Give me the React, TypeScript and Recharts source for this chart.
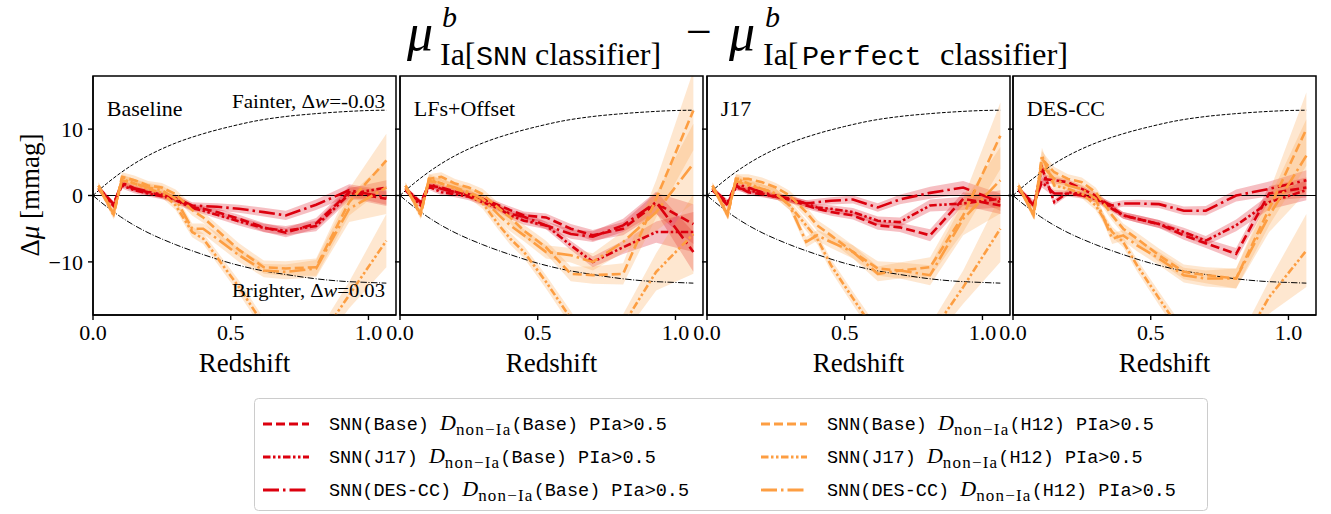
import React from "react";
import { ComposedChart, Line, Area, XAxis, YAxis, ReferenceLine, ReferenceArea } from "recharts";

const SERIF = "Liberation Serif, Times New Roman, serif";
const MONO = "Liberation Mono, Courier New, monospace";
const RED = "#dc000e";
const ORANGE = "#fd9e42";

// redshift bins
const zBins = [0.02, 0.075, 0.105, 0.15, 0.2, 0.25, 0.3, 0.36, 0.4, 0.45, 0.53, 0.62, 0.7, 0.81, 0.93, 1.065];

// reference cosmology curves
const refZ = [0, 0.05, 0.1, 0.15, 0.2, 0.3, 0.4, 0.5, 0.6, 0.7, 0.8, 0.9, 1.0, 1.065];
const fainterCurve = [0, 1.8, 3.4, 4.8, 6.0, 7.9, 9.3, 10.4, 11.3, 11.9, 12.3, 12.6, 12.8, 12.85];
const brighterCurve = [0, -1.7, -3.2, -4.5, -5.6, -7.4, -8.9, -10.2, -11.2, -11.9, -12.5, -12.9, -13.1, -13.2];

const panelNames = ["Baseline", "LFs+Offset", "J17", "DES-CC"];
const xTicks = [0, 0.5, 1.0];
const yTicks = [-10, 0, 10];

// Baseline panel
const baselineBB = [1.2, -1.3, 1.8, 1.0, 0.5, 0.0, -0.5, -1.8, -2.0, -2.5, -3.5, -4.8, -5.6, -4.2, 0.5, -0.5];
const baselineJB = [1.0, -1.6, 1.5, 0.8, 0.3, -0.1, -0.7, -1.9, -2.3, -2.9, -3.9, -4.9, -5.3, -4.6, 0.2, 1.2];
const baselineDB = [1.0, -1.3, 1.9, 1.1, 0.6, 0.1, -0.4, -1.5, -1.6, -1.7, -2.0, -2.5, -3.0, -1.4, 0.8, -0.3];
const baselineBH = [1.5, -2.8, 2.8, 2.3, 1.5, 1.2, 0.2, -2.2, -3.3, -5.2, -8.2, -10.8, -11.0, -10.8, -1.0, 5.3];
const baselineJH = [1.5, -3.0, 2.5, 1.8, 1.0, 0.4, -1.5, -5.5, -6.5, -9.3, -13.8, -19.5, -24, -22.3, -15, -6.8];
const baselineDH = [1.2, -2.6, 2.3, 1.8, 1.2, 0.8, -0.5, -5.0, -5.0, -6.5, -9.0, -11.3, -11.5, -11.0, -2.0, 1.2];
const redErrBaseline = [0.4, 0.4, 0.45, 0.45, 0.45, 0.45, 0.5, 0.5, 0.5, 0.55, 0.6, 0.65, 0.7, 0.8, 0.9, 1.1];
const orangeErrBaseline = [0.5, 0.6, 0.7, 0.7, 0.7, 0.7, 0.7, 0.8, 0.8, 0.9, 1.0, 1.0, 1.1, 1.3, 2.0, 4.0];

// LFs+Offset panel
const lfsBB = [1.0, -1.0, 1.5, 1.2, 0.6, 0.2, -0.5, -1.5, -2.2, -3.0, -3.3, -5.0, -6.0, -5.0, -1.2, -4.3];
const lfsJB = [0.8, -1.5, 1.3, 0.5, 0.2, -0.2, -1.0, -2.0, -3.0, -3.8, -4.5, -7.5, -10.0, -7.8, -5.5, -5.5];
const lfsDB = [1.0, -1.2, 1.8, 1.0, 0.5, 0.0, -0.8, -1.8, -2.8, -3.2, -4.5, -5.8, -6.2, -4.5, -1.0, -8.5];
const lfsBH = [1.5, -2.8, 2.5, 2.8, 1.8, 1.2, 0.2, -2.0, -3.3, -5.3, -7.8, -11.8, -12.0, -11.8, -0.5, 12.8];
const lfsJH = [1.5, -3.0, 2.5, 1.8, 1.0, 0.3, -1.2, -4.5, -6.5, -8.5, -13.0, -18.5, -24, -19.5, -11.5, -5.8];
const lfsDH = [1.2, -2.5, 2.2, 1.8, 1.2, 0.5, -0.5, -3.0, -4.5, -6.0, -8.5, -9.0, -10.0, -7.0, -2.5, 4.8];
const redErrLFs = [0.4, 0.4, 0.45, 0.45, 0.45, 0.5, 0.5, 0.5, 0.55, 0.6, 0.6, 0.7, 0.8, 1.0, 1.6, 3.0];
const orangeErrLFs = [0.5, 0.6, 0.7, 0.7, 0.7, 0.7, 0.8, 0.8, 0.9, 0.9, 1.0, 1.1, 1.3, 1.6, 2.8, 6.0];

// J17 panel
const j17BB = [1.0, -1.5, 1.5, 0.5, 0.2, -0.2, -0.6, -1.5, -2.0, -2.5, -3.0, -4.5, -4.8, -6.0, -0.5, -1.5];
const j17JB = [0.8, -1.2, 1.2, 0.8, 0.3, -0.2, -0.6, -1.2, -1.8, -2.0, -2.5, -3.8, -4.0, -1.5, -1.2, -0.5];
const j17DB = [1.0, -1.0, 1.8, 1.2, 0.5, 0.0, -0.5, -1.2, -1.0, -0.8, -0.6, -1.8, -0.6, 0.4, 1.2, -1.0];
const j17BH = [1.5, -3.0, 2.5, 2.5, 2.0, 1.2, 0.0, -2.5, -4.5, -6.0, -8.5, -11.0, -11.3, -10.8, -3.0, 9.0];
const j17JH = [1.5, -3.0, 2.5, 1.8, 1.0, 0.3, -1.5, -4.5, -6.5, -10.5, -15.5, -21, -25, -21, -13.8, -5.0];
const j17DH = [1.2, -2.5, 2.2, 1.5, 1.0, 0.3, -1.5, -7.0, -6.0, -7.0, -8.5, -11.8, -11.3, -12.0, -3.5, 2.3];
const redErrJ17 = [0.4, 0.4, 0.45, 0.45, 0.45, 0.45, 0.5, 0.5, 0.5, 0.55, 0.6, 0.65, 0.7, 0.9, 1.0, 1.3];
const orangeErrJ17 = [0.5, 0.6, 0.7, 0.7, 0.7, 0.7, 0.7, 0.8, 0.8, 0.9, 1.0, 1.1, 1.2, 1.5, 2.5, 5.0];

// DES-CC panel
const desBB = [1.0, -1.5, 2.5, 2.3, 2.0, 1.0, 0.0, -1.8, -3.0, -3.5, -4.3, -6.0, -7.2, -8.8, 0.3, 1.2];
const desJB = [0.8, -1.5, 4.2, -1.0, 0.5, 0.2, -0.5, -2.0, -3.0, -3.5, -4.3, -5.5, -6.8, -4.5, -1.0, 0.8];
const desDB = [1.0, -1.2, 2.0, 0.3, 0.3, 0.0, -0.5, -1.5, -1.2, -1.2, -1.3, -2.3, -2.3, 0.0, 1.0, 2.3];
const desBH = [1.5, -3.0, 5.5, 3.5, 2.5, 2.0, 0.5, -3.0, -5.0, -6.5, -9.0, -11.5, -12.0, -12.5, -2.0, 10.0];
const desJH = [1.5, -3.0, 6.0, 1.5, 1.0, 0.3, -1.5, -5.5, -7.0, -10.5, -15.5, -21, -26, -24, -15.3, -8.3];
const desDH = [1.2, -2.5, 4.5, 2.5, 1.5, 1.0, -0.5, -6.5, -6.0, -7.5, -9.5, -12.0, -12.5, -12.5, -3.0, 6.0];
const redErrDES = [0.4, 0.5, 0.8, 0.5, 0.45, 0.45, 0.5, 0.5, 0.5, 0.55, 0.6, 0.65, 0.7, 0.9, 1.1, 1.5];
const orangeErrDES = [0.5, 0.6, 1.2, 0.8, 0.7, 0.7, 0.7, 0.8, 0.8, 0.9, 1.0, 1.1, 1.2, 1.5, 2.5, 5.5];

const panelSeries = [
  [baselineBB, baselineJB, baselineDB, baselineBH, baselineJH, baselineDH],
  [lfsBB, lfsJB, lfsDB, lfsBH, lfsJH, lfsDH],
  [j17BB, j17JB, j17DB, j17BH, j17JH, j17DH],
  [desBB, desJB, desDB, desBH, desJH, desDH],
];
const panelRedErr = [redErrBaseline, redErrLFs, redErrJ17, redErrDES];
const panelOrangeErr = [orangeErrBaseline, orangeErrLFs, orangeErrJ17, orangeErrDES];

const DASHED = "9 4";
const DASHDOTDOT = "7.5 2.5 2.5 2.5 2.5 2.5";
const DASHDOT = "16 4 2.5 4";
const seriesStyle = [
  { color: RED, dash: DASHED },
  { color: RED, dash: DASHDOTDOT },
  { color: RED, dash: DASHDOT },
  { color: ORANGE, dash: DASHED },
  { color: ORANGE, dash: DASHDOTDOT },
  { color: ORANGE, dash: DASHDOT },
];
const legendLabels = [
  ["SNN(Base)", "(Base)"],
  ["SNN(J17)", "(Base)"],
  ["SNN(DES-CC)", "(Base)"],
  ["SNN(Base)", "(H12)"],
  ["SNN(J17)", "(H12)"],
  ["SNN(DES-CC)", "(H12)"],
];

const PLOT_W = 303;
const PLOT_H = 239;
const PLOT_TOP = 76;
const Y_AXIS_W = 60;
const X_AXIS_H = 80;
const panelLefts = [93.3, 400.3, 707.3, 1013.3];

const fmtY = (v: number) => (v < 0 ? "\u2212" + Math.abs(v) : String(v));

const serif = (size: number, italic = false): React.CSSProperties => ({
  fontFamily: SERIF,
  fontSize: size,
  fontStyle: italic ? "italic" : "normal",
});
const mono = (size: number): React.CSSProperties => ({ fontFamily: MONO, fontSize: size });

function Panel({ idx }: { idx: number }) {
  const series = panelSeries[idx];
  const rE = panelRedErr[idx];
  const oE = panelOrangeErr[idx];
  const data = zBins.map((z, i) => {
    const row: any = { z };
    series.forEach((arr, s) => {
      const e = s < 3 ? rE[i] : oE[i];
      row["v" + s] = arr[i];
      row["b" + s] = [arr[i] - e, arr[i] + e];
    });
    return row;
  });
  const refData = refZ.map((z, i) => ({ z, f: fainterCurve[i], br: brighterCurve[i] }));
  const left = panelLefts[idx];
  return (
    <div style={{ position: "absolute", left: left - Y_AXIS_W, top: PLOT_TOP - 5 }}>
      <ComposedChart
        width={Y_AXIS_W + PLOT_W + 5}
        height={5 + PLOT_H + X_AXIS_H}
        data={data}
        margin={{ top: 5, right: 5, bottom: 0, left: 0 }}
      >
        <XAxis
          dataKey="z"
          type="number"
          domain={[0, 1.1]}
          ticks={xTicks}
          interval={0}
          allowDataOverflow
          tickFormatter={(v: number) => v.toFixed(1)}
          tick={{ fill: "#000", fontSize: 22, fontFamily: SERIF }}
          tickSize={5}
          tickMargin={4}
          stroke="#000"
          strokeWidth={1.4}
          height={X_AXIS_H}
          label={{ value: "Redshift", position: "insideBottom", offset: 23, fill: "#000", fontSize: 27, fontFamily: SERIF }}
        />
        <YAxis
          type="number"
          domain={[-18, 18]}
          ticks={yTicks}
          interval={0}
          allowDataOverflow
          width={Y_AXIS_W}
          tickFormatter={idx === 0 ? fmtY : () => ""}
          tick={{ fill: "#000", fontSize: 22, fontFamily: SERIF }}
          tickSize={5}
          tickMargin={5}
          stroke="#000"
          strokeWidth={1.4}
        />
        {series.map((_, s) => (
          <Area
            key={"band" + s}
            dataKey={"b" + s}
            type="linear"
            stroke="none"
            fill={seriesStyle[s].color}
            fillOpacity={0.25}
            isAnimationActive={false}
            dot={false}
            activeDot={false}
          />
        ))}
        <Line
          data={refData}
          dataKey="f"
          type="monotone"
          stroke="#000"
          strokeWidth={1}
          strokeDasharray="3.7 1.6"
          dot={false}
          activeDot={false}
          isAnimationActive={false}
        />
        <Line
          data={refData}
          dataKey="br"
          type="monotone"
          stroke="#000"
          strokeWidth={1}
          strokeDasharray="6.4 1.6 1 1.6"
          dot={false}
          activeDot={false}
          isAnimationActive={false}
        />
        <ReferenceLine y={0} stroke="#000" strokeWidth={1.2} />
        {series.map((_, s) => (
          <Line
            key={"line" + s}
            dataKey={"v" + s}
            type="linear"
            stroke={seriesStyle[s].color}
            strokeWidth={2.6}
            strokeDasharray={seriesStyle[s].dash}
            dot={false}
            activeDot={false}
            isAnimationActive={false}
          />
        ))}
        <ReferenceArea x1={0} x2={1.1} y1={-18} y2={18} fill="none" stroke="#000" strokeWidth={1.5} />
      </ComposedChart>
    </div>
  );
}

function LegendRow({ s, x, y }: { s: number; x: number; y: number }) {
  const st = seriesStyle[s];
  const [snn, dset] = legendLabels[s];
  return (
    <g>
      <line x1={x} y1={y} x2={x + 46} y2={y} stroke={st.color} strokeWidth={2.8} strokeDasharray={st.dash} />
      <text x={x + 66} y={y + 6} fill="#000">
        <tspan style={mono(18.5)}>{snn + " "}</tspan>
        <tspan style={serif(22, true)}>D</tspan>
        <tspan style={{ ...serif(17), letterSpacing: 1.2 }} dy={5}>{"non\u2212Ia"}</tspan>
        <tspan style={mono(18.5)} dy={-5}>{dset + " PIa>0.5"}</tspan>
      </text>
    </g>
  );
}

export default function App() {
  const rowsY = [424, 457, 490];
  return (
    <div style={{ position: "absolute", left: 0, top: 0, width: 1331, height: 514, background: "#fff", overflow: "hidden" }}>
      {panelNames.map((_, i) => (
        <Panel key={i} idx={i} />
      ))}
      <svg width={1331} height={514} style={{ position: "absolute", left: 0, top: 0, pointerEvents: "none" }}>
        {/* title */}
        <text x={407} y={50} fill="#000" style={serif(52, true)}>μ</text>
        <text x={442} y={27} fill="#000" style={serif(30, true)}>b</text>
        <text x={440} y={65} fill="#000" style={serif(32)}>Ia[</text>
        <text x={476} y={65} fill="#000" style={mono(28.5)}>SNN</text>
        <text x={535} y={65} fill="#000" style={serif(32)}>classifier]</text>
        <text x={686} y={47} fill="#000" style={serif(46)}>{"\u2212"}</text>
        <text x={729} y={50} fill="#000" style={serif(52, true)}>μ</text>
        <text x={765} y={27} fill="#000" style={serif(30, true)}>b</text>
        <text x={763} y={65} fill="#000" style={serif(32)}>Ia[</text>
        <text x={802} y={65} fill="#000" style={mono(28.5)}>Perfect</text>
        <text x={940} y={65} fill="#000" style={serif(32.5)}>classifier]</text>
        {/* y label */}
        <text transform="translate(39,195) rotate(-90)" textAnchor="middle" fill="#000" style={serif(27)}>
          Δ<tspan style={serif(27, true)}>μ</tspan> [mmag]
        </text>
        {/* panel labels */}
        {panelNames.map((n, i) => (
          <text key={n} x={panelLefts[i] + 13.5} y={116} fill="#000" style={serif(22)}>
            {n}
          </text>
        ))}
        <text x={232} y={108} fill="#000" style={serif(19)} textLength={153} lengthAdjust="spacingAndGlyphs">
          Fainter, Δ<tspan style={serif(19, true)}>w</tspan>=-0.03
        </text>
        <text x={232} y={297} fill="#000" style={serif(19)} textLength={153} lengthAdjust="spacingAndGlyphs">
          Brighter, Δ<tspan style={serif(19, true)}>w</tspan>=0.03
        </text>
        {/* legend */}
        <rect x={254.5} y={398.5} width={953} height={112} rx={4} fill="#fff" stroke="#cccccc" strokeWidth={1} />
        {[0, 1, 2].map((r) => (
          <LegendRow key={"l" + r} s={r} x={263} y={rowsY[r]} />
        ))}
        {[3, 4, 5].map((s, r) => (
          <LegendRow key={"r" + r} s={s} x={761} y={rowsY[r]} />
        ))}
      </svg>
    </div>
  );
}
